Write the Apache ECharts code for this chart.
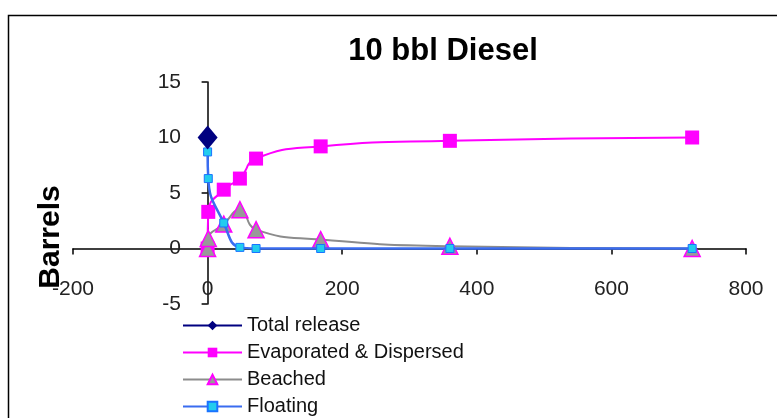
<!DOCTYPE html>
<html>
<head>
<meta charset="utf-8">
<script src="https://cdn.jsdelivr.net/npm/echarts@6/dist/echarts.min.js"></script>
<style>
html,body{margin:0;padding:0;background:#fff;}
#c{width:777px;height:418px;}
</style>
</head>
<body>
<div id="c"></div>
<script>
// Data (time in hours, volume in barrels)
const hours = [0, 1, 24, 48, 72, 168, 360, 720];
const totalRelease = [[0, 10]];
const evaporated = [0, 3.3, 5.3, 6.3, 8.1, 9.2, 9.7, 10.0];
const beached = [0, 0.9, 2.2, 3.5, 1.7, 0.8, 0.2, 0];
const floating = [8.7, 6.3, 2.3, 0.1, 0, 0, 0, 0];
const seriesNames = ['Total release', 'Evaporated & Dispersed', 'Beached', 'Floating'];
const xTicks = {min: -200, max: 800, step: 200};
const yTicks = {min: -5, max: 15, step: 5};
const titleText = '10 bbl Diesel';
const yTitle = 'Barrels';

const pair = arr => hours.map((h, i) => [h, arr[i]]);

const chart = echarts.init(document.getElementById('c'), null, {renderer: 'canvas'});
const font = 'Liberation Sans, Arial, sans-serif';

chart.setOption({
  backgroundColor: '#fff',
  animation: false,
  grid: {left: 73, right: 31, top: 82, bottom: 114, containLabel: false},
  xAxis: {
    type: 'value', min: xTicks.min, max: xTicks.max, interval: xTicks.step,
    axisLine: {onZero: true, lineStyle: {color: '#000', width: 1.5}},
    axisTick: {show: true, length: 6, lineStyle: {color: '#000', width: 1.5}},
    axisLabel: {margin: -25, fontSize: 21, color: '#222', fontFamily: font},
    splitLine: {show: false}
  },
  yAxis: {
    type: 'value', min: yTicks.min, max: yTicks.max, interval: yTicks.step,
    axisLine: {onZero: true, lineStyle: {color: '#000', width: 1.5}},
    axisTick: {show: true, length: 6, lineStyle: {color: '#000', width: 1.5}},
    axisLabel: {margin: -108, fontSize: 21, color: '#222', fontFamily: font},
    splitLine: {show: false}
  },
  legend: {
    orient: 'vertical', left: 182, top: 315, padding: 0,
    itemWidth: 59, itemHeight: 12, itemGap: 6,
    textStyle: {fontSize: 20, color: '#111', fontFamily: font, lineHeight: 21},
    data: seriesNames
  },
  graphic: [
    {type: 'rect', left: 6, top: 13, shape: {width: 800, height: 500},
     style: {fill: 'none', stroke: '#000', lineWidth: 1.5}, silent: true},
    {type: 'text', x: 443, y: 51,
     style: {text: titleText, font: 'bold 31px Liberation Sans, Arial, sans-serif', fill: '#000',
             textAlign: 'center', textVerticalAlign: 'middle'}},
    {type: 'text', x: 51, y: 237, rotation: Math.PI / 2,
     style: {text: yTitle, font: 'bold 30px Liberation Sans, Arial, sans-serif', fill: '#000',
             textAlign: 'center', textVerticalAlign: 'middle'}}
  ],
  series: [
    {
      name: seriesNames[0], type: 'line', data: totalRelease,
      symbol: 'diamond', symbolSize: [20, 24],
      itemStyle: {color: '#000080'}, lineStyle: {color: '#000080', width: 2}, z: 5
    },
    {
      name: seriesNames[1], type: 'line', data: pair(evaporated),
      smooth: 0.5,
      symbol: 'rect', symbolSize: 14,
      itemStyle: {color: '#ff00ff'}, lineStyle: {color: '#ff00ff', width: 2}, z: 2
    },
    {
      name: seriesNames[2], type: 'line', data: pair(beached),
      smooth: 0.5,
      symbol: 'triangle', symbolSize: 16,
      itemStyle: {color: '#999999', borderColor: '#ff00ff', borderWidth: 1.5},
      lineStyle: {color: '#8c8c8c', width: 2}, z: 3
    },
    {
      name: seriesNames[3], type: 'line', data: pair(floating),
      smooth: 0.5,
      symbol: 'rect', symbolSize: 8,
      itemStyle: {color: '#22ccee', borderColor: '#1a73ff', borderWidth: 1},
      lineStyle: {color: '#3a6cf0', width: 2.5}, z: 4
    }
  ]
});
</script>
</body>
</html>
